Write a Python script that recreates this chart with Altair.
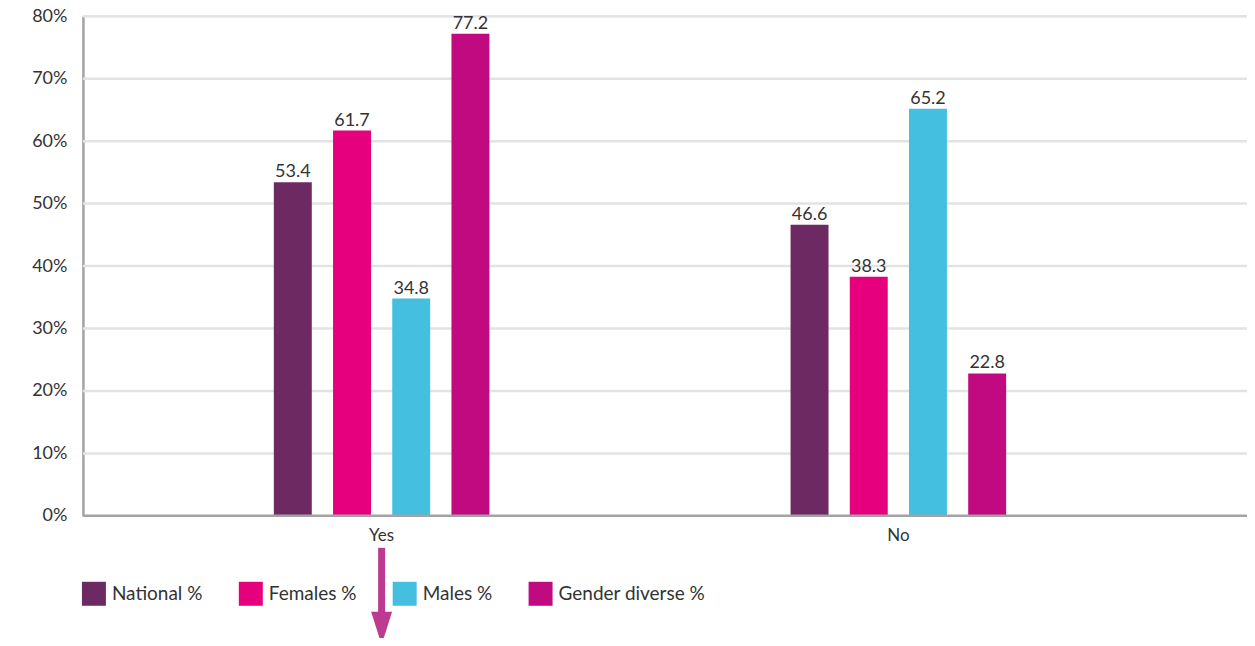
import altair as alt
import pandas as pd

groups = ["Yes", "No"]
series = ["National %", "Females %", "Males %", "Gender diverse %"]
colors = ["#6d2a62", "#e6007e", "#45bfe0", "#c10a80"]
yes_values = [53.4, 61.7, 34.8, 77.2]
no_values = [46.6, 38.3, 65.2, 22.8]
y_ticks = [0, 10, 20, 30, 40, 50, 60, 70, 80]

rows = []
for g, vals in zip(groups, [yes_values, no_values]):
    for s, v in zip(series, vals):
        rows.append({"group": g, "series": s, "value": v})
df = pd.DataFrame(rows)

FONT = "Lato"
W, H = 1165, 500

xscale = alt.Scale(domain=groups, range=[0, 1115], paddingInner=0.542, paddingOuter=0.349)
offscale = alt.Scale(domain=series, paddingInner=0.359, paddingOuter=0.178)
yscale = alt.Scale(domain=[0, 80], nice=False)

grid = alt.Chart(pd.DataFrame({"v": y_ticks[1:]})).mark_rule(color="#e3e3e3", strokeWidth=2.5).encode(
    y=alt.Y("v:Q", scale=yscale),
    x=alt.value(0), x2=alt.value(W),
)

base = alt.Chart(df)

bars = base.mark_bar().encode(
    x=alt.X("group:N", scale=xscale, sort=groups,
            axis=alt.Axis(title=None, domain=False, ticks=False, labelAngle=0,
                          labelFontSize=17, labelColor="#333333", labelFont=FONT,
                          labelPadding=12)),
    xOffset=alt.XOffset("series:N", scale=offscale, sort=series),
    y=alt.Y("value:Q", scale=yscale,
            axis=alt.Axis(title=None, values=y_ticks, labelExpr="datum.value + '%'",
                          ticks=False, domain=True, domainColor="#a3a3a3", domainWidth=2.5,
                          grid=False,
                          labelFontSize=18, labelColor="#333333", labelFont=FONT,
                          labelPadding=16)),
    color=alt.Color("series:N", scale=alt.Scale(domain=series, range=colors), sort=series,
                    legend=alt.Legend(title=None, orient="none", legendX=-1, legendY=566,
                                      direction="horizontal", symbolType="square",
                                      symbolSize=576, symbolStrokeWidth=0,
                                      labelFontSize=19, labelColor="#333333", labelFont=FONT,
                                      labelOffset=6, columnPadding=36)),
)

labels = base.mark_text(dy=-10, fontSize=18, color="#333333", font=FONT).encode(
    x=alt.X("group:N", scale=xscale, sort=groups),
    xOffset=alt.XOffset("series:N", scale=offscale, sort=series),
    y=alt.Y("value:Q", scale=yscale),
    text=alt.Text("value:Q", format=".1f"),
)

baseline = alt.Chart(pd.DataFrame({"v": [0]})).mark_rule(color="#a3a3a3", strokeWidth=2.5).encode(
    y=alt.Y("v:Q", scale=yscale),
    x=alt.value(0), x2=alt.value(W),
)

arrow_df = pd.DataFrame({"group": ["Yes"]})
shaft = alt.Chart(arrow_df).mark_rule(color="#bc3a8f", strokeWidth=7).encode(
    x=alt.X("group:N", scale=xscale, sort=groups),
    y=alt.value(532), y2=alt.value(600),
)
head = alt.Chart(arrow_df).mark_point(shape="M-1,-1.57L1,-1.57L0,1.57Z", filled=True,
                                      color="#bc3a8f", size=441, opacity=1,
                                      strokeWidth=0).encode(
    x=alt.X("group:N", scale=xscale, sort=groups),
    y=alt.value(612.5),
)

chart = alt.layer(grid, bars, baseline, labels, shaft, head).properties(
    width=W, height=H,
    autosize=alt.AutoSizeParams(type="none"),
    padding={"left": 75, "top": 8, "right": 0, "bottom": 122},
).configure_view(stroke=None).configure(font=FONT)

chart.save("out.html", embed_options={"renderer": "svg", "actions": False})
